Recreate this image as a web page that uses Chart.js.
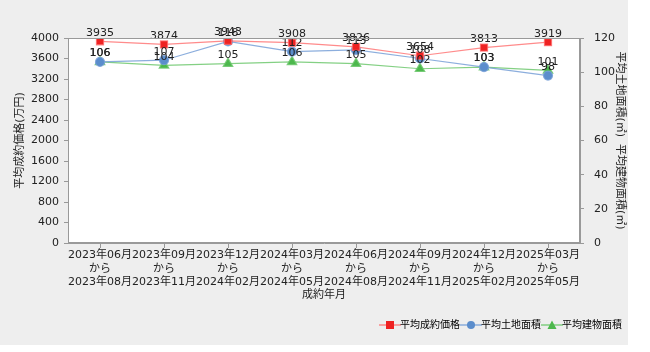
<!DOCTYPE html>
<html>
<head>
<meta charset="utf-8">
<script src="https://cdn.jsdelivr.net/npm/chart.js@4"></script>
<style>
  html, body { margin: 0; padding: 0; background: #fff; }
  #wrap { width: 650px; height: 352px; }
</style>
</head>
<body>
<div id="wrap"><canvas id="c" width="650" height="352"></canvas></div>
<script>
const periodFrom = ["2023年06月", "2023年09月", "2023年12月", "2024年03月", "2024年06月", "2024年09月", "2024年12月", "2025年03月"];
const periodTo = ["2023年08月", "2023年11月", "2024年02月", "2024年05月", "2024年08月", "2024年11月", "2025年02月", "2025年05月"];
const avgPrice = [3935, 3874, 3943, 3908, 3826, 3654, 3813, 3919];
const avgLand = [106, 107, 118, 112, 113, 108, 103, 98];
const avgBuilding = [106, 104, 105, 106, 105, 102, 103, 101];
const priceTicks = [0, 400, 800, 1200, 1600, 2000, 2400, 2800, 3200, 3600, 4000];
const areaTicks = [0, 20, 40, 60, 80, 100, 120];

const FONT = "'DejaVu Sans', 'Noto Sans CJK JP', sans-serif";
const labels = periodFrom.map((f, i) => [f, "から", periodTo[i]]);

// legend marker: short line with the point on it
function legendIcon(line, fill, style) {
  const cv = document.createElement("canvas");
  cv.width = 22; cv.height = 10;
  const g = cv.getContext("2d");
  g.strokeStyle = line; g.lineWidth = 1.5;
  g.beginPath(); g.moveTo(0, 5); g.lineTo(22, 5); g.stroke();
  g.fillStyle = fill;
  if (style === "rect") g.fillRect(7, 1, 8, 8);
  else if (style === "circle") { g.beginPath(); g.arc(11, 5, 4, 0, Math.PI * 2); g.fill(); }
  else { g.beginPath(); g.moveTo(11, 0.5); g.lineTo(15.5, 9); g.lineTo(6.5, 9); g.closePath(); g.fill(); }
  return cv;
}

const bgPlugin = {
  id: "bg",
  beforeDraw(chart) {
    const { ctx, chartArea: a } = chart;
    ctx.save();
    ctx.fillStyle = "#eeeeee";
    ctx.fillRect(0, 0, 628, 345);
    ctx.fillStyle = "#ffffff";
    ctx.fillRect(a.left, a.top, a.right - a.left, a.bottom - a.top);
    ctx.restore();
  },
  afterDraw(chart) {
    const { ctx, chartArea: a } = chart;
    ctx.save();
    ctx.strokeStyle = "#999999";
    ctx.lineWidth = 1;
    ctx.strokeRect(a.left + 0.5, a.top + 0.5, a.right - a.left - 1, a.bottom - a.top - 1);
    ctx.restore();
  }
};

const valueLabels = {
  id: "valueLabels",
  afterDatasetsDraw(chart) {
    const ctx = chart.ctx;
    ctx.save();
    ctx.font = "11px " + FONT;
    ctx.fillStyle = "#222";
    ctx.textAlign = "center";
    ctx.textBaseline = "bottom";
    chart.data.datasets.forEach((ds, i) => {
      chart.getDatasetMeta(i).data.forEach((pt, j) => {
        ctx.fillText(String(ds.data[j]), pt.x, pt.y - 3);
      });
    });
    ctx.restore();
  }
};

new Chart(document.getElementById("c"), {
  type: "line",
  data: {
    labels,
    datasets: [
      {
        label: "平均成約価格", data: avgPrice, yAxisID: "y",
        borderColor: "rgba(255,100,100,0.75)", backgroundColor: "#ee2222",
        pointStyle: "rect", pointRadius: 5, borderWidth: 1.2,
        legendIcon: legendIcon("rgba(255,100,100,0.75)", "#ee2222", "rect")
      },
      {
        label: "平均土地面積", data: avgLand, yAxisID: "y1",
        borderColor: "rgba(120,160,215,0.85)", backgroundColor: "#5b8dcc",
        pointStyle: "circle", pointRadius: 4.5, borderWidth: 1.2,
        legendIcon: legendIcon("rgba(120,160,215,0.85)", "#5b8dcc", "circle")
      },
      {
        label: "平均建物面積", data: avgBuilding, yAxisID: "y1",
        borderColor: "rgba(110,200,110,0.85)", backgroundColor: "#4cb84c",
        pointStyle: "triangle", pointRadius: 5.5, borderWidth: 1.2,
        legendIcon: legendIcon("rgba(110,200,110,0.85)", "#4cb84c", "triangle")
      }
    ]
  },
  options: {
    responsive: false,
    animation: false,
    layout: { padding: { top: 38, bottom: 12, left: 12, right: 22 } },
    plugins: {
      tooltip: { enabled: false },
      legend: {
        position: "bottom",
        align: "end",
        labels: {
          usePointStyle: true,
          font: { size: 10, family: FONT },
          color: "#222",
          padding: 6,
          generateLabels(chart) {
            return chart.data.datasets.map((ds, i) => ({
              text: ds.label, pointStyle: ds.legendIcon, datasetIndex: i,
              fillStyle: ds.backgroundColor, strokeStyle: ds.borderColor, lineWidth: 0
            }));
          }
        }
      }
    },
    scales: {
      x: {
        offset: true,
        grid: { offset: false, drawOnChartArea: false, tickLength: 5, color: "#999" },
        border: { color: "#999" },
        ticks: { font: { size: 11, family: FONT }, color: "#222", maxRotation: 0, autoSkip: false, padding: 1 },
        title: { display: true, text: "成約年月", font: { size: 11, family: FONT }, color: "#222", padding: { top: 0, bottom: 12 } },
        afterFit(s) { s.height = 71; }
      },
      y: {
        position: "left", min: 0, max: 4000,
        afterBuildTicks(s) { s.ticks = priceTicks.map(v => ({ value: v })); },
        grid: { drawOnChartArea: false, tickLength: 4, color: "#999" },
        border: { color: "#999" },
        ticks: { font: { size: 11, family: FONT }, color: "#222", padding: 5, callback: v => String(v) },
        title: { display: true, text: "平均成約価格(万円)", font: { size: 11, family: FONT }, color: "#222", padding: 2 },
        afterFit(s) { s.width = 56; }
      },
      y1: {
        position: "right", min: 0, max: 120,
        afterBuildTicks(s) { s.ticks = areaTicks.map(v => ({ value: v })); },
        grid: { drawOnChartArea: false, tickLength: 4, color: "#999" },
        border: { color: "#999" },
        ticks: { font: { size: 11, family: FONT }, color: "#222", padding: 10, callback: v => String(v) },
        title: { display: true, text: "平均土地面積(㎡)  平均建物面積(㎡)", font: { size: 11, family: FONT }, color: "#222", padding: 2 },
        afterFit(s) { s.width = 48; }
      }
    }
  },
  plugins: [bgPlugin, valueLabels]
});
</script>
</body>
</html>
